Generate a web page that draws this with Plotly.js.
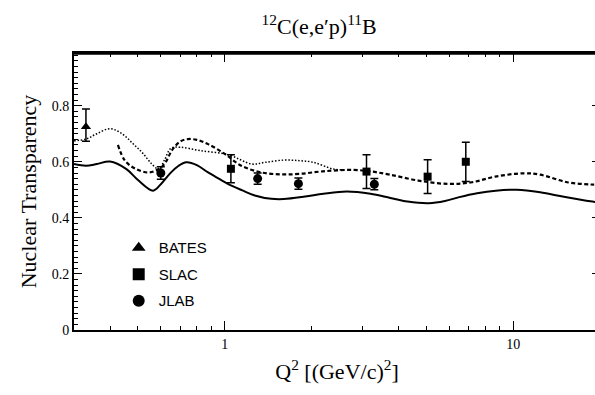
<!DOCTYPE html>
<html>
<head>
<meta charset="utf-8">
<script src="https://cdn.plot.ly/plotly-3.0.1.min.js"></script>
<style>
  html, body { margin: 0; padding: 0; overflow: hidden; background: #fff; }
  #chart { width: 602px; height: 395px; }
</style>
</head>
<body>
<div id="chart"></div>
<script>
// ---- Data ----
const batesQ2 = [0.33];
const batesT = [0.725];
const batesErrPlus = [0.063];
const batesErrMinus = [0.052];

const slacQ2 = [1.05, 3.1, 5.05, 6.85];
const slacT = [0.575, 0.565, 0.547, 0.60];
const slacErr = [0.05, 0.06, 0.06, 0.07];

const jlabQ2 = [0.6, 1.3, 1.8, 3.3];
const jlabT = [0.56, 0.54, 0.522, 0.52];
const jlabErr = [0.022, 0.02, 0.02, 0.02];

const solidQ2 = [0.3, 0.33, 0.36, 0.40, 0.456, 0.50, 0.564, 0.60, 0.644, 0.69, 0.736, 0.80, 0.875, 0.96, 1.055, 1.15, 1.27, 1.45, 1.6, 1.9, 2.2, 2.65, 3.2, 3.75, 4.3, 5.1, 5.8, 6.5, 7.5, 8.7, 10.3, 12.4, 15, 18.5, 20];
const solidT = [0.592, 0.586, 0.592, 0.601, 0.574, 0.535, 0.497, 0.52, 0.557, 0.585, 0.598, 0.588, 0.562, 0.538, 0.515, 0.498, 0.48, 0.468, 0.467, 0.476, 0.486, 0.494, 0.486, 0.471, 0.458, 0.452, 0.46, 0.474, 0.488, 0.497, 0.50, 0.491, 0.475, 0.459, 0.455];

const dashedQ2 = [0.426, 0.45, 0.49, 0.55, 0.61, 0.66, 0.70, 0.746, 0.80, 0.875, 1.0, 1.14, 1.34, 1.57, 1.82, 2.19, 2.79, 3.19, 3.74, 4.69, 5.96, 7.19, 8.66, 10.9, 12.4, 15.4, 18.5, 20];
const dashedT = [0.66, 0.605, 0.575, 0.562, 0.586, 0.645, 0.672, 0.681, 0.678, 0.663, 0.628, 0.586, 0.562, 0.555, 0.557, 0.566, 0.571, 0.566, 0.554, 0.533, 0.521, 0.527, 0.547, 0.559, 0.554, 0.527, 0.519, 0.518];

const dottedQ2 = [0.3, 0.33, 0.36, 0.40, 0.44, 0.48, 0.52, 0.555, 0.59, 0.62, 0.65, 0.70, 0.82, 1.03, 1.24, 1.38, 1.6, 1.82, 2.03, 2.38, 2.6];
const dottedT = [0.675, 0.681, 0.70, 0.718, 0.70, 0.665, 0.63, 0.595, 0.574, 0.61, 0.648, 0.652, 0.64, 0.625, 0.592, 0.598, 0.606, 0.604, 0.598, 0.574, 0.571];

const xMajorTicks = [1, 10];
const xMajorLabels = ['1', '10'];
const xMinorTicks = [0.3, 0.4, 0.5, 0.6, 0.7, 0.8, 0.9, 2, 3, 4, 5, 6, 7, 8, 9, 20];
const yMajorTicks = [0, 0.2, 0.4, 0.6, 0.8];
const yMajorLabels = ['0', '0.2', '0.4', '0.6', '0.8'];

const serif = 'Liberation Serif';
const xRange = [Math.log10(0.3), Math.log10(20)];
const yRange = [0, 0.988];

const traces = [
  { x: solidQ2, y: solidT, mode: 'lines', showlegend: false, hoverinfo: 'skip',
    line: { color: '#000', width: 2, shape: 'spline', smoothing: 1 } },
  { x: dashedQ2, y: dashedT, mode: 'lines', showlegend: false, hoverinfo: 'skip',
    line: { color: '#000', width: 2.2, dash: '4px,2.5px', shape: 'spline', smoothing: 1 } },
  { x: dottedQ2, y: dottedT, mode: 'lines', showlegend: false, hoverinfo: 'skip',
    line: { color: '#000', width: 1.5, dash: '1.5px,1.8px', shape: 'spline', smoothing: 1 } },
  { x: batesQ2, y: batesT, name: 'BATES', mode: 'markers', legendgroup: 'a',
    marker: { symbol: 'triangle-up', size: 9, color: '#000' },
    error_y: { type: 'data', symmetric: false, array: batesErrPlus, arrayminus: batesErrMinus, color: '#000', thickness: 1.5, width: 4 } },
  { x: slacQ2, y: slacT, name: 'SLAC', mode: 'markers', legendgroup: 'b',
    marker: { symbol: 'square', size: 8, color: '#000' },
    error_y: { type: 'data', array: slacErr, color: '#000', thickness: 1.5, width: 4 } },
  { x: jlabQ2, y: jlabT, name: 'JLAB', mode: 'markers', legendgroup: 'c',
    marker: { symbol: 'circle', size: 9, color: '#000' },
    error_y: { type: 'data', array: jlabErr, color: '#000', thickness: 1.5, width: 4 } }
];

const layout = {
  width: 602, height: 395,
  margin: { l: 74, r: 2, t: 53, b: 65 },
  font: { family: serif, color: '#000', size: 14 },
  title: {
    text: '<sup>12</sup>C(e,e′p)<sup>11</sup>B',
    font: { family: serif, size: 22, color: '#000' },
    x: 0.466, xref: 'paper', xanchor: 'center',
    y: 0.934, yref: 'container', yanchor: 'middle'
  },
  xaxis: {
    type: 'log', range: xRange,
    showline: true, linecolor: '#000', linewidth: 2, mirror: 'ticks',
    showgrid: false, zeroline: false,
    ticks: 'inside', ticklen: 9, tickwidth: 1.3, tickcolor: '#000',
    tickmode: 'array', tickvals: xMajorTicks, ticktext: xMajorLabels,
    tickfont: { family: serif, size: 14, color: '#000' },
    minor: { tickmode: 'array', tickvals: xMinorTicks, ticks: 'inside', ticklen: 4, tickwidth: 1.1, tickcolor: '#000', showgrid: false },
    title: { text: 'Q<sup>2</sup> [(GeV/c)<sup>2</sup>]', font: { family: serif, size: 22, color: '#000' }, standoff: 13 }
  },
  yaxis: {
    range: yRange,
    showline: true, linecolor: '#000', linewidth: 2, mirror: 'ticks',
    showgrid: false, zeroline: false,
    ticks: 'inside', ticklen: 8, tickwidth: 1.3, tickcolor: '#000',
    tickmode: 'array', tickvals: yMajorTicks, ticktext: yMajorLabels,
    tickfont: { family: serif, size: 14, color: '#000' },
    minor: { tickmode: 'linear', tick0: 0, dtick: 0.02, ticks: 'inside', ticklen: 4, tickwidth: 1.1, tickcolor: '#000', showgrid: false },
    title: { text: 'Nuclear Transparency', font: { family: serif, size: 22, color: '#000' }, standoff: 9 }
  },
  shapes: [
    { type: 'line', xref: 'paper', yref: 'paper', x0: 0, x1: 1, y0: 0.997, y1: 0.997, layer: 'above',
      line: { color: '#000', width: 2 } }
  ],
  legend: {
    x: 0.085, xanchor: 'left', y: 0.356, yanchor: 'top',
    bgcolor: 'rgba(0,0,0,0)', borderwidth: 0,
    font: { family: 'Liberation Sans', size: 15, color: '#000' },
    tracegroupgap: 4, itemsizing: 'constant'
  },
  showlegend: true
};

Plotly.newPlot('chart', traces, layout, { displayModeBar: false });
</script>
</body>
</html>
